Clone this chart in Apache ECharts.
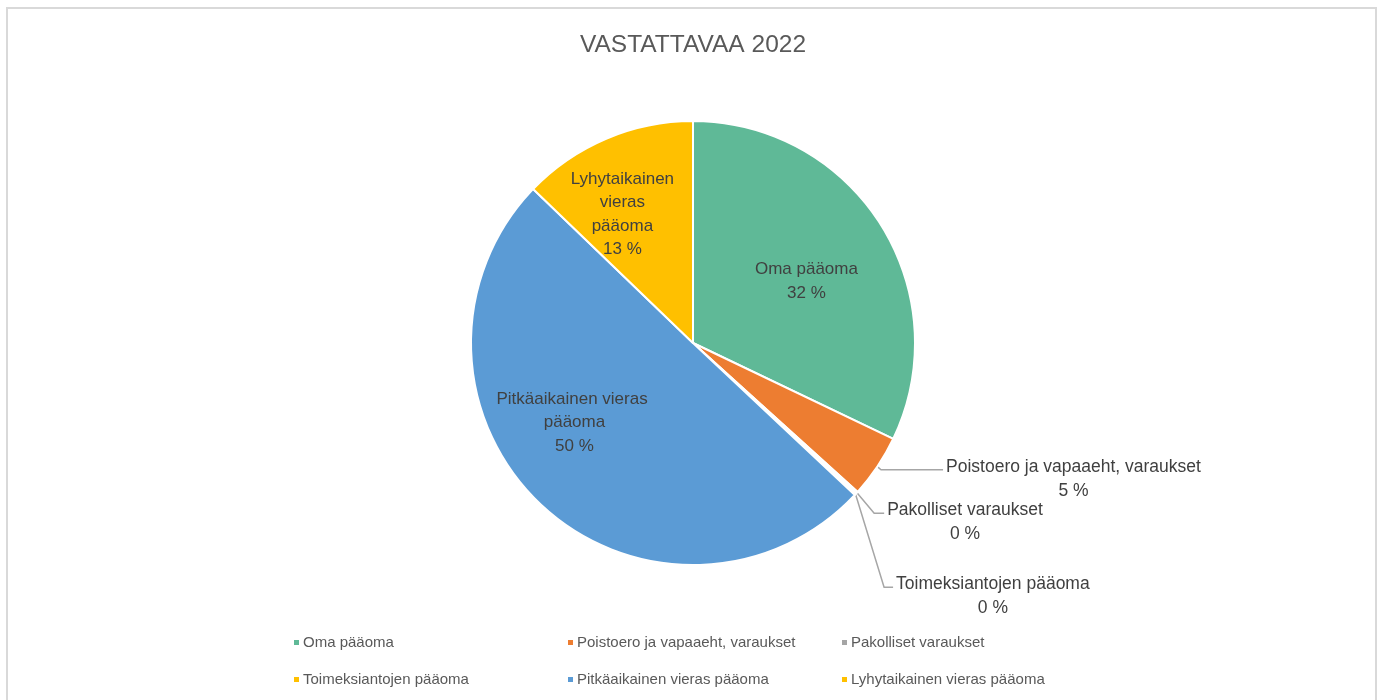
<!DOCTYPE html>
<html>
<head>
<meta charset="utf-8">
<title>Vastattavaa 2022</title>
<script src="https://cdn.jsdelivr.net/npm/echarts@6/dist/echarts.min.js"></script>
<style>
  html, body { margin: 0; padding: 0; background: #fff; }
  #frame { position: absolute; left: 6px; top: 7px; width: 1371px; height: 700px; border: 2px solid #d9d9d9; box-sizing: border-box; }
  #chart { width: 1386px; height: 700px; }
</style>
</head>
<body>
<div id="frame"></div>
<div id="chart"></div>
<script>
// share of total balance sheet (%)
const categories = [
  'Oma pääoma',
  'Poistoero ja vapaaeht, varaukset',
  'Pakolliset varaukset',
  'Toimeksiantojen pääoma',
  'Pitkäaikainen vieras pääoma',
  'Lyhytaikainen vieras pääoma'
];
const shares = [32.1, 4.6, 0.15, 0.15, 50.2, 12.8];
const colors = ['#5fb997', '#ed7d31', '#a5a5a5', '#ffc000', '#5b9bd5', '#ffc000'];

// how each label is placed (inside the slice or outside with a leader line)
const labelSetup = [
  { inside: true, width: 150, dx: 17, dy: -1 },
  { inside: false, len: 2, len2: 62, dx: 0, dy: 11 },
  { inside: false, len: 26, len2: 10, dx: -4, dy: 12 },
  { inside: false, len: 110, len2: 9, dx: -54, dy: 27 },
  { inside: true, width: 190, dx: -40, dy: -3 },
  { inside: true, width: 0, dx: -26, dy: -24 }
];

const chart = echarts.init(document.getElementById('chart'));

const pct = p => Math.round(p.percent) + ' %';

const pieData = categories.map((name, i) => {
  const s = labelSetup[i];
  const item = { name: name, value: shares[i], itemStyle: { color: colors[i] } };
  if (s.inside && s.width) {
    item.label = { position: 'inside', width: s.width, overflow: 'break' };
    item.labelLine = { show: false };
  } else if (s.inside) {
    // narrow slice: one word per line
    item.label = { position: 'inside', formatter: p => p.name.split(' ').join('\n') + '\n' + pct(p) };
    item.labelLine = { show: false };
  } else {
    item.label = {
      position: 'outside',
      formatter: p => '{c|' + p.name + '}\n{c|' + pct(p) + '}'
    };
    item.labelLine = { show: true, length: s.len, length2: s.len2 };
  }
  return item;
});

chart.setOption({
  animation: false,
  title: {
    text: 'VASTATTAVAA 2022',
    left: 'center',
    top: 28,
    textStyle: {
      fontFamily: 'Liberation Sans',
      fontSize: 24.5,
      fontWeight: 'normal',
      color: '#595959'
    }
  },
  legend: {
    data: categories,
    left: 287,
    top: 625,
    width: 840,
    itemGap: 12,
    itemWidth: 7,
    itemHeight: 7,
    icon: 'rect',
    textStyle: {
      fontFamily: 'Liberation Sans',
      fontSize: 15,
      color: '#595959',
      width: 251,
      lineHeight: 25,
      padding: [0, 0, 0, -2]
    }
  },
  series: [
    {
      type: 'pie',
      center: [693, 343],
      radius: 222,
      startAngle: 90,
      clockwise: true,
      avoidLabelOverlap: false,
      itemStyle: { borderColor: '#ffffff', borderWidth: 2 },
      label: {
        fontFamily: 'Liberation Sans',
        fontSize: 17,
        color: '#404040',
        lineHeight: 23.5,
        formatter: p => p.name + '\n' + pct(p),
        rich: {
          c: {
            align: 'center',
            fontFamily: 'Liberation Sans',
            fontSize: 17.5,
            color: '#404040',
            lineHeight: 24
          }
        }
      },
      labelLine: {
        lineStyle: { color: '#a6a6a6', width: 1.5 },
        smooth: false
      },
      labelLayout: function (p) {
        const s = labelSetup[p.dataIndex];
        if (s.inside) return { dx: s.dx, dy: s.dy };
        // re-attach the leader line to the moved label
        const r = p.labelRect;
        const ex = r.x + s.dx - 3;
        const ey = r.y + s.dy + 15;
        const start = p.labelLinePoints ? p.labelLinePoints[0] : [ex - s.len2, ey];
        return {
          dx: s.dx,
          dy: s.dy,
          labelLinePoints: [start, [ex - s.len2, ey], [ex, ey]]
        };
      },
      emphasis: { disabled: true },
      data: pieData
    }
  ]
});

window.addEventListener('resize', () => chart.resize());
</script>
</body>
</html>
